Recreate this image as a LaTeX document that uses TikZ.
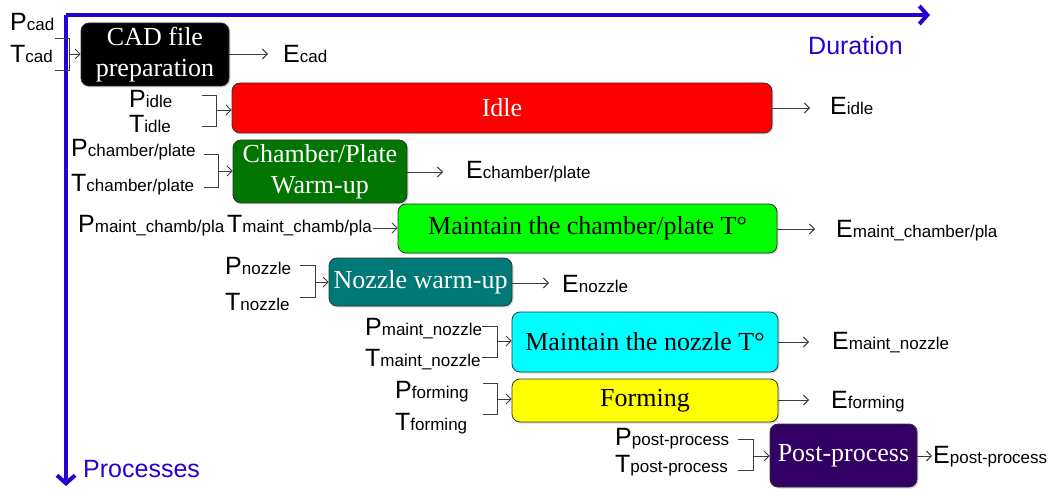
\documentclass[tikz,border=0pt]{standalone}
\usepackage{fontspec}
\setmainfont{Liberation Serif}
\setsansfont{Liberation Sans}
\usetikzlibrary{arrows.meta,shadows,calc}
\definecolor{axisblue}{RGB}{40,0,210}
\definecolor{dkgreen}{RGB}{0,118,0}
\definecolor{ltgreen}{RGB}{0,255,0}
\definecolor{teal2}{RGB}{0,120,120}
\definecolor{cyan2}{RGB}{0,255,255}
\definecolor{yellow2}{RGB}{255,255,0}
\definecolor{red2}{RGB}{255,0,0}
\definecolor{purple2}{RGB}{50,0,100}
\definecolor{connc}{RGB}{60,60,60}
\newcommand{\mylab}[2]{{\fontsize{25}{25}\selectfont #1}{\fontsize{17}{17}\selectfont #2}}
\tikzset{
  box/.style={draw=black!80, line width=0.8pt, rounded corners=8pt, align=center,
    font=\fontsize{26}{31}\selectfont, inner sep=0pt,
    drop shadow={shadow xshift=1.5pt, shadow yshift=-1.5pt, opacity=0.3}},
  lab/.style={anchor=base west, inner sep=0pt, font=\sffamily},
  conn/.style={draw=connc, line width=0.9pt},
  arr/.style={conn, -{Straight Barb[length=5pt,width=10pt]}},
  axis/.style={draw=axisblue, line width=4pt, -{Straight Barb[length=8pt,width=18pt]}},
  axlab/.style={anchor=base west, inner sep=0pt, text=axisblue, font=\sffamily\fontsize{25}{25}\selectfont},
}
\begin{document}
\begin{tikzpicture}[x=1pt,y=-1pt]
\useasboundingbox (0,0) rectangle (1052,489);
% axes
\coordinate (origin) at (66,15);
\coordinate (xend) at (930,15);
\coordinate (yend) at (66,486);
\draw[axis] (origin) -- (xend);
\draw[axis] (origin) -- (yend);
\node[axlab] (dur) at (808,55) {Duration};
\node[axlab] (proc) at (83,477) {Processes};

% boxes
\node[box, fill=black, text=white, minimum width=148pt, minimum height=63pt] (cad) at (155,54.5) {CAD file\\preparation};
\node[box, fill=red2, text=white, minimum width=540pt, minimum height=50pt] (idle) at (502,108) {Idle};
\node[box, fill=dkgreen, text=white, minimum width=174pt, minimum height=63pt] (cham) at (320,171.5) {Chamber/Plate\\Warm-up};
\node[box, fill=ltgreen, text=black, minimum width=379pt, minimum height=49pt] (mcham) at (587.5,228.5) {Maintain the chamber/plate T°};
\node[box, fill=teal2, text=white, minimum width=183pt, minimum height=48pt] (noz) at (420.5,282) {Nozzle warm-up};
\node[box, fill=cyan2, text=black, minimum width=266pt, minimum height=60pt] (mnoz) at (645,342) {Maintain the nozzle T°};
\node[box, fill=yellow2, text=black, minimum width=266pt, minimum height=43pt] (form) at (645,400.5) {Forming};
\node[box, fill=purple2, text=white, minimum width=147pt, minimum height=63pt] (post) at (843.5,455.5) {Post-process};

% inputs
\node[lab] (Pcad) at (10,31) {\mylab{P}{cad}};
\node[lab] (Tcad) at (10,63) {\mylab{T}{cad}};
\coordinate (bcad) at (69,54);
\draw[conn] (55,38) -| (69,70) -- (55,70);
\draw[arr] (bcad) -- (bcad -| cad.west);

\node[lab] (Pidle) at (129,108) {\mylab{P}{idle}};
\node[lab] (Tidle) at (129,133) {\mylab{T}{idle}};
\coordinate (bidle) at (216,110);
\draw[conn] (202,95) -| (216,126) -- (202,126);
\draw[arr] (bidle) -- (bidle -| idle.west);

\node[lab] (Pcham) at (71,157) {\mylab{P}{chamber/plate}};
\node[lab] (Tcham) at (71,192) {\mylab{T}{chamber/plate}};
\coordinate (bcham) at (218,171);
\draw[conn] (204,154) -| (218,187) -- (204,187);
\draw[arr] (bcham) -- (bcham -| cham.west);

\node[lab] (PTmcham) at (78,233) {\mylab{P}{maint\_chamb/pla} \mylab{T}{maint\_chamb/pla}};
\coordinate (bmcham) at (373,228);
\draw[arr] (bmcham) -- (bmcham -| mcham.west);

\node[lab] (Pnoz) at (225,274) {\mylab{P}{nozzle}};
\node[lab] (Tnoz) at (225,310) {\mylab{T}{nozzle}};
\coordinate (bnoz) at (315,282);
\draw[conn] (300,265) -| (315,297) -- (300,297);
\draw[arr] (bnoz) -- (bnoz -| noz.west);

\node[lab] (Pmnoz) at (365,335) {\mylab{P}{maint\_nozzle}};
\node[lab] (Tmnoz) at (365,366) {\mylab{T}{maint\_nozzle}};
\coordinate (bmnoz) at (497,341);
\draw[conn] (482,326) -| (497,357) -- (482,357);
\draw[arr] (bmnoz) -- (bmnoz -| mnoz.west);

\node[lab] (Pform) at (395,398) {\mylab{P}{forming}};
\node[lab] (Tform) at (395,430) {\mylab{T}{forming}};
\coordinate (bform) at (497,399);
\draw[conn] (483,383) -| (497,414) -- (483,414);
\draw[arr] (bform) -- (bform -| form.west);

\node[lab] (Ppost) at (615,445) {\mylab{P}{post-process}};
\node[lab] (Tpost) at (615,472) {\mylab{T}{post-process}};
\coordinate (bpost) at (753,456);
\draw[conn] (738,439) -| (753,470) -- (738,470);
\draw[arr] (bpost) -- (bpost -| post.west);

% outputs
\node[lab] (Ecad) at (283,63) {\mylab{E}{cad}};
\coordinate (ecad) at (268,54);
\draw[arr] (ecad -| cad.east) -- (ecad);

\node[lab] (Eidle) at (830,115) {\mylab{E}{idle}};
\coordinate (eidle) at (810,108);
\draw[arr] (eidle -| idle.east) -- (eidle);

\node[lab] (Echam) at (466,179) {\mylab{E}{chamber/plate}};
\coordinate (echam) at (443,172);
\draw[arr] (echam -| cham.east) -- (echam);

\node[lab] (Emcham) at (836,237) {\mylab{E}{maint\_chamber/pla}};
\coordinate (emcham) at (815,229);
\draw[arr] (emcham -| mcham.east) -- (emcham);

\node[lab] (Enoz) at (562,292) {\mylab{E}{nozzle}};
\coordinate (enoz) at (549,283);
\draw[arr] (enoz -| noz.east) -- (enoz);

\node[lab] (Emnoz) at (832,349) {\mylab{E}{maint\_nozzle}};
\coordinate (emnoz) at (809,342);
\draw[arr] (emnoz -| mnoz.east) -- (emnoz);

\node[lab] (Eform) at (831,408) {\mylab{E}{forming}};
\coordinate (eform) at (809,400);
\draw[arr] (eform -| form.east) -- (eform);

\node[lab] (Epost) at (933,463) {\mylab{E}{post-process}};
\coordinate (epost) at (932,456);
\draw[arr] (epost -| post.east) -- (epost);
\end{tikzpicture}
\end{document}
